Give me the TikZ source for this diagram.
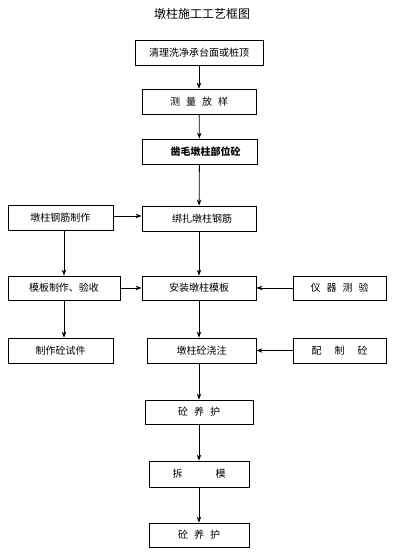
\documentclass[tikz,border=0pt]{standalone}
\usepackage{fontspec}
\setmainfont{Noto Sans CJK SC}
\usepackage{tikz}
\usetikzlibrary{arrows.meta,positioning}

\begin{document}
\begin{tikzpicture}[x=1pt,y=-1pt,
  box/.style={draw,line width=0.8pt,minimum height=25pt,inner sep=0pt,font=\fontsize{10}{12}\selectfont},
  flow/.style={line width=0.8pt,-{Stealth[length=6pt,width=4.5pt]}}]
  \useasboundingbox (0,0) rectangle (404,560);
  \node (title) at (202,14) {\fontsize{12}{14}\selectfont 墩柱施工工艺框图};

  % main column
  \node[box,minimum width=128pt] (clean) at (199,52.5) {清理洗净承台面或桩顶};
  \node[box,minimum width=114pt] (survey) at (199,101.5) {测\hspace{0.6em}量\hspace{0.6em}放\hspace{0.6em}样};
  \node[box,minimum width=115pt] (chisel) at (199.5,151.5) {\hspace{1.2em}\bfseries 凿毛墩柱部位砼};
  \node[box,minimum width=114pt] (bind) at (199,218.5) {\hspace{0.6em}绑扎墩柱钢筋};
  \node[box,minimum width=114pt,minimum height=24pt] (formset) at (199,288) {安装墩柱模板};
  \node[box,minimum width=109pt] (pour) at (201.5,350.5) {墩柱砼浇注};
  \node[box,minimum width=108pt,minimum height=24pt] (cure) at (199,412) {砼\hspace{0.6em}养\hspace{0.6em}护};
  \node[box,minimum width=100pt,minimum height=26pt] (strip) at (199,474) {拆\hspace{3.3em}模};
  \node[box,minimum width=100pt,minimum height=24pt] (curetwo) at (199,535) {砼\hspace{0.6em}养\hspace{0.6em}护};

  % left column
  \node[box,minimum width=105pt] (rebar) at (60.5,217.5) {墩柱钢筋制作};
  \node[box,minimum width=112pt,minimum height=24pt] (formmake) at (64,288) {模板制作、验收\hspace{1.8em}};
  \node[box,minimum width=105pt] (specimen) at (60.5,350.5) {制作砼试件};

  % right column
  \node[box,minimum width=93pt,minimum height=24pt] (instr) at (339.5,288) {仪\hspace{0.6em}器\hspace{0.6em}测\hspace{0.6em}验};
  \node[box,minimum width=93pt] (mix) at (339.5,350.5) {配\hspace{1.3em}制\hspace{1.3em}砼};

  \draw[flow] (clean) -- (survey);
  \draw[flow] (survey) -- (chisel);
  \draw[flow] (chisel) -- (bind);
  \draw[flow] (bind) -- (formset);
  \draw[flow] (formset.south) -- (formset.south |- pour.north);
  \draw[flow] (pour.south -| cure.north) -- (cure.north);
  \draw[flow] (cure) -- (strip);
  \draw[flow] (strip) -- (curetwo);

  \draw[flow] (rebar.east) ++(0,-1.5) coordinate (r1) -- (r1 -| bind.west);
  \draw[flow] (rebar.south -| formmake) -- (formmake.north);
  \draw[flow] (formmake) -- (formmake |- specimen.north);
  \draw[flow] (formmake) -- (formset);
  \draw[flow] (instr) -- (formset);
  \draw[flow] (mix) -- (pour);
\end{tikzpicture}
\end{document}
